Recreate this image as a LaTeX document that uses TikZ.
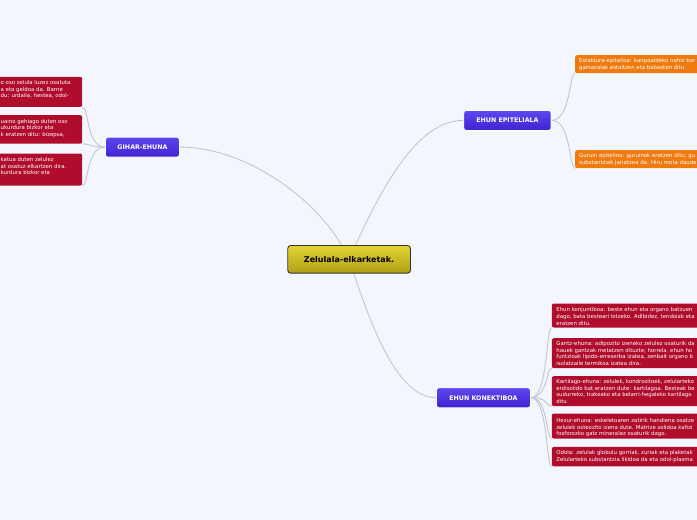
\documentclass[tikz,border=0pt]{standalone}
\usepackage{fontspec}
\setmainfont{DejaVu Sans}
\usetikzlibrary{calc}
\definecolor{bgc}{HTML}{F3F6FD}
\definecolor{crim}{HTML}{B00C2C}
\definecolor{orng}{HTML}{EE7A10}
\definecolor{purtop}{HTML}{5E47F0}
\definecolor{purbot}{HTML}{3F22D0}
\definecolor{yeltop}{HTML}{E3D434}
\definecolor{yelbot}{HTML}{B09E16}
\definecolor{connc}{HTML}{C2C6CE}
\pgfdeclarelayer{back}
\pgfsetlayers{back,main}
\begin{document}
\begin{tikzpicture}[x=1pt,y=-1pt,
  conn/.style={draw=connc, line width=0.9pt},
  topic/.style={rounded corners=2.5pt, draw=white, line width=0.9pt, top color=purtop, bottom color=purbot,
    text=white, font=\fontsize{6.3}{7}\selectfont\bfseries, inner sep=0pt, anchor=north west},
  central/.style={rounded corners=3pt, draw=black!80, line width=0.9pt, top color=yeltop, bottom color=yelbot,
    text=black, font=\fontsize{8}{9}\selectfont\bfseries, inner sep=0pt, anchor=north west},
  redbox/.style={rounded corners=2pt, fill=crim, draw=none, anchor=north west, inner sep=0pt},
  orbox/.style={rounded corners=2pt, fill=orng, draw=none, anchor=north west, inner sep=0pt},
  btxt/.style={anchor=north west, inner sep=0pt, align=left, text=white,
    font=\fontsize{5.4}{6.6}\selectfont},
]
\useasboundingbox (0,0) rectangle (697,520);
\begin{pgfonlayer}{back}
\fill[bgc] (0,0) rectangle (697,520);
\end{pgfonlayer}

% central node
\node[central, minimum width=122.7pt, minimum height=27.7pt] (c) at (287.3,245) {Zelulala-elkarketak.};

% main topics
\node[topic, minimum width=74pt, minimum height=20pt] (g) at (105,136.7) {GIHAR-EHUNA};
\node[topic, minimum width=87.4pt, minimum height=20pt] (e) at (463.3,110) {EHUN EPITELIALA};
\node[topic, minimum width=94pt, minimum height=20pt] (k) at (436,387.3) {EHUN KONEKTIBOA};

% left boxes (cut by the left edge)
\node[redbox, minimum width=142pt, minimum height=30pt] (l1) at (-60,76.7) {};
\node[btxt] (l1t) at (0.5,80.2) {o oso zelula luzez osatuta\\a eta geldoa da. Barne\\du: urdaila, hestea, odol-};
\node[redbox, minimum width=142pt, minimum height=28.5pt] (l2) at (-60,115) {};
\node[btxt] (l2t) at (0.5,118.8) {uaino gehiago duten oso\\ukurdura bizkor eta\\k eratzen ditu: bizepsa,};
\node[redbox, minimum width=142pt, minimum height=32pt] (l3) at (-60,153.3) {};
\node[btxt] (l3t) at (0.5,157.4) {katua duten zelulez\\at osatuz elkartzen dira.\\kurdura bizkor eta};

% orange boxes (cut by the right edge)
\node[orbox, minimum width=160pt, minimum height=18pt] (o1) at (575,55) {};
\node[btxt] (o1t) at ($(o1.north west)+(4,3.3)$) {Estaldura-epitelioa: kanpoaldeko nahiz bar\\gainazalak estaltzen eta babesten ditu};
\node[orbox, minimum width=160pt, minimum height=18pt] (o2) at (575,150) {};
\node[btxt] (o2t) at ($(o2.north west)+(4,3.3)$) {Guruin epitelioa: guruinak eratzen ditu; gu\\substantziak jariatzea da. Hiru mota daude};

% right red boxes (cut by the right edge)
\node[redbox, minimum width=180pt, minimum height=24pt] (r1) at (551.7,303.3) {};
\node[btxt] (r1t) at ($(r1.north west)+(4.5,4.2)$) {Ehun konjuntiboa: beste ehun eta organo batzuen\\dago, bata besteari lotzeko. Adibidez, tendoiak eta\\eratzen ditu.};
\node[redbox, minimum width=180pt, minimum height=30pt] (r2) at (551.7,338) {};
\node[btxt] (r2t) at ($(r2.north west)+(4.5,3.4)$) {Gantz-ehuna: adipozito izeneko zelulez osaturik da\\hauek gantzak metatzen dituzte; horrela, ehun ho\\funtzioak lipido-erreserba izatea, zenbait organo b\\isolatzaile termikoa izatea dira.};
\node[redbox, minimum width=180pt, minimum height=30pt] (r3) at (551.7,376) {};
\node[btxt] (r3t) at ($(r3.north west)+(4.5,3.4)$) {Kartilago-ehuna: zelulek, kondrozitoek, zelularteko\\erdisolido bat eratzen dute: kartilagoa. Besteak be\\sudurreko, trakeako eta belarri-hegaleko kartilago\\ditu};
\node[redbox, minimum width=180pt, minimum height=25pt] (r4) at (551.7,413.3) {};
\node[btxt] (r4t) at ($(r4.north west)+(4.5,5)$) {Hezur-ehuna: eskeletoaren zatirik handiena osatze\\zelulek osteozito izena dute. Matrize solidoa kaltzi\\fosforozko gatz mineralez osaturik dago.};
\node[redbox, minimum width=180pt, minimum height=19.5pt] (r5) at (551.7,446.7) {};
\node[btxt] (r5t) at ($(r5.north west)+(4.5,3.6)$) {Odola: zelulak globulu gorriak, zuriak eta plaketak\\Zelularteko substantzia likidoa da eta odol-plasma};

% connectors
\begin{pgfonlayer}{back}
\draw[conn] (c.center) .. controls (322,200) and (245,146.7) .. (g.east);
\draw[conn] (c.center) .. controls (378,195) and (415,120) .. (e.west);
\draw[conn] (c.center) .. controls (372,330) and (398,397.3) .. (k.west);
\draw[conn] (g.west) .. controls (86,146.7) and (89,106.7) .. (l1.south east);
\draw[conn] (g.west) .. controls (90,146.7) and (88,143.5) .. (l2.south east);
\draw[conn] (g.west) .. controls (86,146.7) and (89,185.3) .. (l3.south east);
\draw[conn] (e.east) .. controls (571,120) and (569,73) .. (o1.south west);
\draw[conn] (e.east) .. controls (571,120) and (569,168) .. (o2.south west);
\draw[conn] (k.east) .. controls (548,397.3) and (546,327.3) .. (r1.south west);
\draw[conn] (k.east) .. controls (548,397.3) and (546,368) .. (r2.south west);
\draw[conn] (k.east) .. controls (548,397.3) and (546,406) .. (r3.south west);
\draw[conn] (k.east) .. controls (548,397.3) and (546,438.3) .. (r4.south west);
\draw[conn] (k.east) .. controls (548,397.3) and (546,466.2) .. (r5.south west);
\end{pgfonlayer}
\end{tikzpicture}
\end{document}
